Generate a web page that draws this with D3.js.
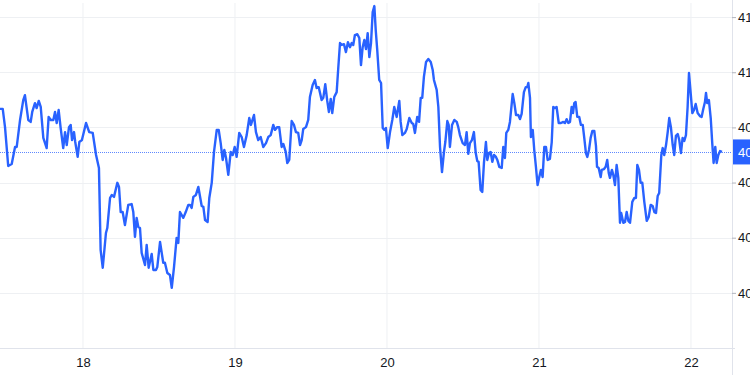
<!DOCTYPE html>
<html>
<head>
<meta charset="utf-8">
<script src="https://cdn.jsdelivr.net/npm/d3@7"></script>
<style>
  html, body { margin: 0; padding: 0; background: #ffffff; overflow: hidden; }
  svg { display: block; }
  text { font-family: "Liberation Sans", Arial, sans-serif; font-size: 13px; fill: #131722; }
</style>
</head>
<body>
<div id="chart"></div>
<script>
// Time of each point, in days of the month (fractional).
const times = [
  17.454,17.472,17.487,17.508,17.531,17.553,17.564,17.586,17.607,17.618,
  17.640,17.656,17.666,17.684,17.695,17.709,17.722,17.739,17.761,17.774,
  17.788,17.805,17.816,17.827,17.840,17.853,17.870,17.882,17.893,17.908,
  17.919,17.928,17.941,17.949,17.965,17.976,17.993,18.020,18.041,18.064,
  18.086,18.105,18.116,18.130,18.151,18.160,18.178,18.189,18.204,18.226,
  18.237,18.248,18.261,18.276,18.298,18.320,18.331,18.342,18.353,18.364,
  18.375,18.386,18.408,18.419,18.432,18.452,18.463,18.480,18.489,18.507,
  18.528,18.539,18.555,18.572,18.584,18.599,18.616,18.627,18.638,18.660,
  18.676,18.693,18.704,18.715,18.726,18.743,18.759,18.781,18.792,18.803,
  18.820,18.831,18.847,18.862,18.880,18.893,18.906,18.919,18.930,18.941,
  18.956,18.972,18.985,18.998,19.011,19.028,19.044,19.059,19.077,19.094,
  19.105,19.125,19.138,19.153,19.169,19.186,19.204,19.219,19.235,19.252,
  19.263,19.278,19.291,19.307,19.318,19.334,19.344,19.357,19.373,19.388,
  19.401,19.416,19.428,19.439,19.449,19.467,19.482,19.493,19.511,19.526,
  19.537,19.551,19.570,19.581,19.594,19.607,19.618,19.630,19.640,19.653,
  19.669,19.680,19.691,19.702,19.717,19.730,19.743,19.757,19.768,19.778,
  19.789,19.805,19.818,19.829,19.840,19.851,19.862,19.873,19.884,19.895,
  19.906,19.917,19.926,19.936,19.949,19.961,19.972,19.982,19.993,20.005,
  20.020,20.035,20.048,20.064,20.081,20.090,20.101,20.118,20.130,20.147,
  20.163,20.173,20.184,20.199,20.211,20.222,20.232,20.243,20.257,20.272,
  20.288,20.301,20.309,20.327,20.338,20.349,20.362,20.375,20.384,20.397,
  20.406,20.414,20.428,20.443,20.459,20.469,20.480,20.498,20.513,20.524,
  20.535,20.546,20.559,20.572,20.584,20.594,20.603,20.616,20.627,20.638,
  20.651,20.660,20.671,20.682,20.693,20.704,20.717,20.726,20.739,20.755,
  20.765,20.776,20.785,20.798,20.809,20.827,20.838,20.849,20.864,20.875,
  20.886,20.901,20.913,20.923,20.930,20.941,20.947,20.959,20.969,20.980,
  20.991,21.002,21.013,21.024,21.035,21.046,21.057,21.072,21.084,21.094,
  21.105,21.116,21.130,21.145,21.160,21.171,21.182,21.193,21.204,21.215,
  21.224,21.232,21.241,21.252,21.265,21.276,21.288,21.298,21.309,21.318,
  21.329,21.340,21.351,21.364,21.375,21.382,21.393,21.406,21.413,21.428,
  21.439,21.449,21.459,21.467,21.480,21.489,21.500,21.511,21.522,21.533,
  21.541,21.555,21.566,21.577,21.588,21.599,21.614,21.627,21.638,21.647,
  21.658,21.669,21.680,21.693,21.709,21.722,21.735,21.748,21.759,21.770,
  21.781,21.791,21.805,21.814,21.824,21.836,21.847,21.857,21.868,21.880,
  21.890,21.901,21.913,21.923,21.934,21.945,21.956,21.967,21.978,21.987,
  21.998,22.009,22.020,22.031,22.044,22.059,22.070,22.081,22.092,22.099,
  22.107,22.118,22.130,22.140,22.149,22.160,22.169,22.180,22.191,22.204
];

// Price at each time.
const prices = [
  40.867,40.867,40.801,40.660,40.667,40.729,40.729,40.827,40.899,40.917,
  40.827,40.820,40.856,40.888,40.870,40.896,40.874,40.762,40.725,40.838,
  40.827,40.827,40.856,40.816,40.863,40.798,40.725,40.783,40.736,40.801,
  40.809,40.754,40.783,40.747,40.693,40.747,40.754,40.816,40.783,40.780,
  40.700,40.653,40.356,40.291,40.417,40.435,40.544,40.555,40.548,40.599,
  40.584,40.493,40.493,40.446,40.519,40.522,40.493,40.403,40.472,40.439,
  40.435,40.345,40.301,40.374,40.291,40.341,40.283,40.283,40.294,40.385,
  40.309,40.309,40.272,40.265,40.218,40.294,40.399,40.381,40.493,40.472,
  40.493,40.519,40.519,40.508,40.548,40.555,40.584,40.515,40.512,40.464,
  40.457,40.544,40.599,40.711,40.791,40.791,40.743,40.682,40.718,40.689,
  40.628,40.711,40.700,40.729,40.693,40.780,40.765,40.729,40.772,40.834,
  40.809,40.845,40.783,40.754,40.765,40.729,40.743,40.765,40.772,40.809,
  40.791,40.801,40.801,40.729,40.740,40.711,40.671,40.682,40.823,40.809,
  40.783,40.780,40.736,40.754,40.794,40.801,40.827,40.910,40.954,40.972,
  40.943,40.946,40.899,40.907,40.957,40.896,40.856,40.903,40.852,40.910,
  40.928,41.019,41.106,41.099,41.102,41.073,41.109,41.091,41.106,41.099,
  41.135,41.138,41.124,41.026,41.091,41.117,41.084,41.142,41.055,41.106,
  41.218,41.240,41.153,41.080,40.972,40.961,40.798,40.791,40.798,40.725,
  40.783,40.827,40.874,40.838,40.896,40.820,40.772,40.780,40.794,40.834,
  40.816,40.812,40.780,40.838,40.820,40.907,40.907,40.983,41.037,41.048,
  41.037,41.008,40.972,40.936,40.874,40.729,40.638,40.711,40.747,40.823,
  40.809,40.729,40.809,40.827,40.820,40.801,40.772,40.743,40.736,40.783,
  40.704,40.743,40.754,40.783,40.707,40.678,40.675,40.573,40.566,40.671,
  40.747,40.682,40.707,40.711,40.675,40.700,40.693,40.682,40.657,40.653,
  40.729,40.689,40.780,40.791,40.820,40.921,40.888,40.845,40.845,40.830,
  40.849,40.928,40.946,40.946,40.961,40.907,40.765,40.791,40.718,40.657,
  40.591,40.620,40.646,40.620,40.729,40.729,40.682,40.686,40.747,40.874,
  40.870,40.874,40.816,40.816,40.820,40.816,40.830,40.816,40.820,40.874,
  40.852,40.888,40.892,40.838,40.838,40.809,40.809,40.762,40.707,40.693,
  40.718,40.762,40.787,40.787,40.733,40.657,40.653,40.620,40.646,40.649,
  40.657,40.682,40.635,40.617,40.646,40.628,40.591,40.664,40.617,40.454,
  40.490,40.454,40.457,40.493,40.461,40.454,40.530,40.544,40.544,40.664,
  40.646,40.599,40.599,40.530,40.461,40.475,40.519,40.515,40.493,40.490,
  40.551,40.562,40.700,40.725,40.700,40.736,40.783,40.834,40.801,40.736,
  40.700,40.769,40.776,40.754,40.707,40.762,40.751,40.772,40.874,40.997,
  40.925,40.852,40.863,40.885,40.852,40.841,40.838,40.867,40.892,40.925,
  40.888,40.899,40.834,40.743,40.671,40.729,40.671,40.700,40.714,40.711
];

// Axis ticks.
const dayTicks = [18, 19, 20, 21, 22];
const priceTicks = [41.2, 41.0, 40.8, 40.6, 40.4, 40.2];

// Visible ranges.
const dayRange = [17.454, 22.27];
const priceRange = [40.0, 41.262];

const width = 750, height = 375;
const plotW = 732, plotH = 348, plotTop = 3;

const svg = d3.select("#chart").append("svg")
  .attr("width", width)
  .attr("height", height);

const x = d3.scaleLinear().domain(dayRange).range([0, plotW]);
const y = d3.scaleLinear().domain(priceRange).range([plotH, 0]);

// Grid lines.
svg.append("g")
  .selectAll("line")
  .data(dayTicks)
  .join("line")
  .attr("x1", d => x(d)).attr("x2", d => x(d))
  .attr("y1", plotTop).attr("y2", plotH)
  .attr("stroke", "#eef0f3")
  .attr("stroke-width", 1);

svg.append("g")
  .selectAll("line")
  .data(priceTicks)
  .join("line")
  .attr("x1", 0).attr("x2", plotW)
  .attr("y1", d => Math.round(y(d)) + 0.5).attr("y2", d => Math.round(y(d)) + 0.5)
  .attr("stroke", "#eef0f3")
  .attr("stroke-width", 1);

// Borders of the price and time scales.
svg.append("line")
  .attr("x1", 0).attr("x2", plotW + 3)
  .attr("y1", plotH + 0.5).attr("y2", plotH + 0.5)
  .attr("stroke", "#e0e3eb");
svg.append("line")
  .attr("x1", plotW + 0.5).attr("x2", plotW + 0.5)
  .attr("y1", 0).attr("y2", height)
  .attr("stroke", "#e0e3eb");

// Clip the series to the pane.
svg.append("clipPath").attr("id", "pane")
  .append("rect").attr("x", 0).attr("y", 0).attr("width", plotW).attr("height", plotH);

const last = prices[prices.length - 1];

// Dotted last-price line.
svg.append("line")
  .attr("x1", 0).attr("x2", plotW)
  .attr("y1", Math.round(y(last)) + 0.5).attr("y2", Math.round(y(last)) + 0.5)
  .attr("stroke", "#2962ff")
  .attr("stroke-opacity", 0.75)
  .attr("stroke-dasharray", "1,1");

// Price line.
const line = d3.line()
  .x((d, i) => x(times[i]))
  .y(d => y(d));

svg.append("path")
  .datum(prices)
  .attr("clip-path", "url(#pane)")
  .attr("fill", "none")
  .attr("stroke", "#2962ff")
  .attr("stroke-width", 2.4)
  .attr("stroke-linejoin", "round")
  .attr("d", line);

// Time axis.
const xAxis = svg.append("g")
  .attr("transform", `translate(0,${plotH})`)
  .call(d3.axisBottom(x).tickValues(dayTicks).tickSize(0).tickPadding(10).tickFormat(d3.format("d")));
xAxis.select(".domain").remove();
xAxis.selectAll("text").style("font-size", "13px").attr("fill", "#131722");

// Price axis (labels run past the right edge, as in the original crop).
const yAxis = svg.append("g")
  .attr("transform", `translate(${plotW},0)`)
  .call(d3.axisRight(y).tickValues(priceTicks).tickSize(4).tickPadding(2).tickFormat(d3.format(".2f")));
yAxis.select(".domain").remove();
yAxis.selectAll("line").attr("stroke", "#b2b5be");
yAxis.selectAll("text").style("font-size", "13px").attr("fill", "#131722");

// Last-price label.
const tag = svg.append("g").attr("transform", `translate(${plotW + 1},${y(last)})`);
tag.append("rect")
  .attr("x", 0).attr("y", -12.5)
  .attr("width", 30).attr("height", 25)
  .attr("fill", "#2962ff");
tag.append("text")
  .attr("x", 5).attr("dy", "0.35em")
  .style("fill", "#ffffff")
  .text(d3.format(".2f")(last));
</script>
</body>
</html>
